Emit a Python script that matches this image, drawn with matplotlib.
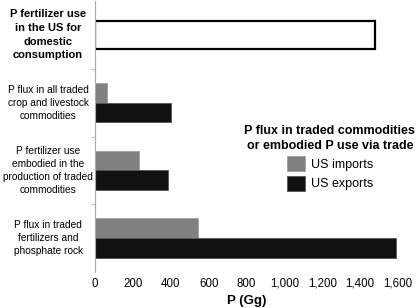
import matplotlib.pyplot as plt
import numpy as np

plt.rcParams['font.family'] = ['Liberation Sans', 'DejaVu Sans']

# categories, top to bottom
categories = ["P flux in traded\nfertilizers and\nphosphate rock",
              "P fertilizer use\nembodied in the\nproduction of traded\ncommodities",
              "P flux in all traded\ncrop and livestock\ncommodities"]
imports = [545, 233, 63]
exports = [1590, 386, 402]
domestic_label = "P fertilizer use\nin the US for\ndomestic\nconsumption"
domestic_use = 1480
xticks = [0, 200, 400, 600, 800, 1000, 1200, 1400, 1600]

fig = plt.figure(figsize=(4.19, 3.08), dpi=100)
ax = fig.add_axes([95/419, 1-272/308, 303/419, 271/308])

y = np.arange(len(categories))
h = 0.29
ax.barh(y + h/2, imports, height=h, color='#808080', edgecolor='#a0a0a0', lw=0.6, label='US imports')
ax.barh(y - h/2, exports, height=h, color='#111111', edgecolor='#555555', lw=0.6, label='US exports')
ax.barh([3], [domestic_use], height=0.41, color='white', edgecolor='black', lw=1.6)

ax.set_xlim(0, 1600)
ax.set_ylim(-0.5, 3.5)
ax.set_xticks(xticks)
ax.set_xticklabels([f"{v:,}" for v in xticks], fontsize=8.3)
ax.tick_params(axis='x', length=0, pad=4)
ax.set_yticks([])
ax.set_yticks([0.5, 1.5, 2.5], minor=True)
ax.tick_params(axis='y', which='minor', length=3, color='#aaaaaa')
for s in ['top', 'right', 'bottom']:
    ax.spines[s].set_visible(False)
ax.spines['left'].set_color('#aaaaaa')

for yi, lab in zip(y, categories):
    ax.text(-0.155, (yi + 0.5) / 4, lab, transform=ax.transAxes, ha='center', va='center',
            fontsize=7.3, linespacing=1.38)
ax.text(-0.155, 3.5 / 4, domestic_label, transform=ax.transAxes, ha='center', va='center',
        fontsize=8, fontweight='bold', linespacing=1.45)

ax.set_xlabel("P (Gg)", fontsize=9.5, fontweight='bold', labelpad=4)

leg = ax.legend(loc='upper center', bbox_to_anchor=(0.775, 0.575), frameon=False, fontsize=9,
                title="P flux in traded commodities\nor embodied P use via trade",
                handlelength=1.45, handleheight=1.45, handletextpad=0.45, labelspacing=0.35,
                borderpad=0.2)
leg.get_title().set_fontweight('bold')
leg.get_title().set_fontsize(9)
leg.get_title().set_multialignment('center')
leg.get_title().set_linespacing(1.35)
leg._legend_box.align = 'center'

fig.savefig('out.png', dpi=100)
